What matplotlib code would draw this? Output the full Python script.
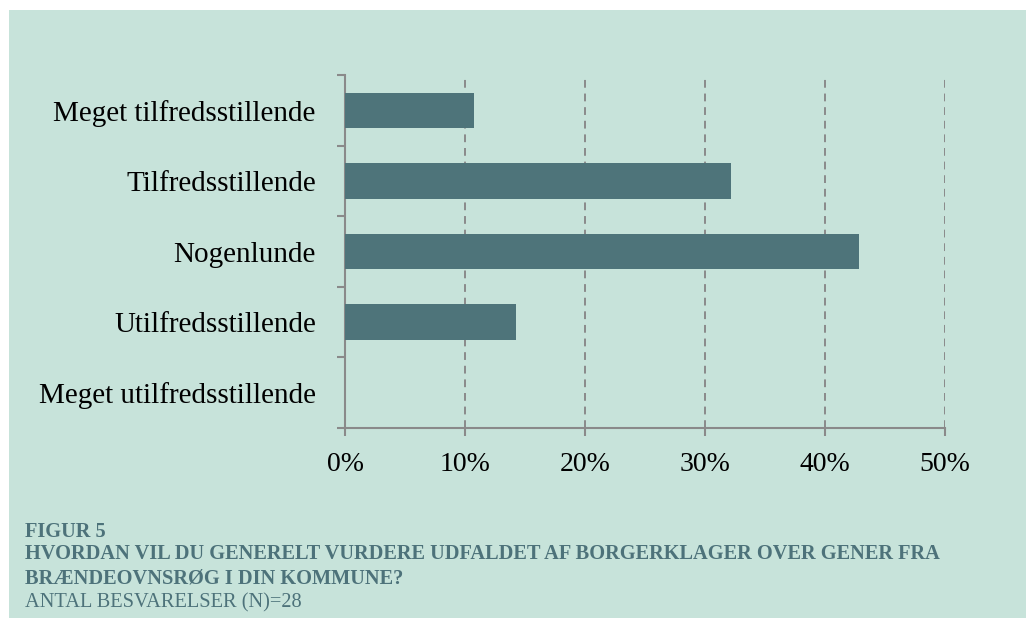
import numpy as np
import matplotlib.pyplot as plt
from matplotlib.patches import Rectangle

CATEGORIES = [
    "Meget tilfredsstillende",
    "Tilfredsstillende",
    "Nogenlunde",
    "Utilfredsstillende",
    "Meget utilfredsstillende",
]
SHARES = [10.71, 32.14, 42.86, 14.29, 0.0]  # percent, n=28
X_TICKS = [0, 10, 20, 30, 40, 50]
CAPTION_BOLD = [
    "FIGUR 5",
    "HVORDAN VIL DU GENERELT VURDERE UDFALDET AF BORGERKLAGER OVER GENER FRA",
    "BRÆNDEOVNSRØG I DIN KOMMUNE?",
]
CAPTION_NOTE = "ANTAL BESVARELSER (N)=28"

BG = "#c7e3da"
BAR = "#4e747a"
GREY = "#8a8a8a"
CAPTION = "#4d727a"

plt.rcParams["font.family"] = ["Liberation Serif", "DejaVu Serif"]


def main():
    W, H = 1026, 618
    fig = plt.figure(figsize=(W / 100, H / 100), dpi=100, facecolor="white")
    fig.patches.append(
        Rectangle((9 / W, 0), 1, 1 - 10 / H, transform=fig.transFigure,
                  facecolor=BG, edgecolor="none", zorder=-10)
    )

    ax = fig.add_axes([345 / W, 1 - 428 / H, 600 / W, 353 / H])
    ax.set_facecolor("none")

    y = np.arange(len(CATEGORIES))
    ax.barh(y, SHARES, height=0.5, color=BAR, zorder=3)

    ax.set_xlim(0, 50)
    ax.set_ylim(len(CATEGORIES) - 0.5, -0.5)

    ax.set_xticks(X_TICKS)
    ax.set_xticklabels([f"{t}%" for t in X_TICKS], fontsize=20)
    ax.set_yticks(np.arange(len(CATEGORIES) + 1) - 0.5)
    ax.set_yticklabels([])
    ax.set_yticks(y, minor=True)
    ax.set_yticklabels(CATEGORIES, minor=True, fontsize=21)

    ax.tick_params(axis="both", which="major", direction="out", length=6,
                   width=1.5, color=GREY)
    ax.tick_params(axis="x", pad=11)
    ax.tick_params(axis="y", which="minor", length=0, pad=21)

    for side in ("top", "right"):
        ax.spines[side].set_visible(False)
    for side in ("left", "bottom"):
        ax.spines[side].set_color(GREY)
        ax.spines[side].set_linewidth(1.5)

    for t in X_TICKS[1:]:
        ax.axvline(t, color=GREY, lw=1.4, linestyle=(0, (4, 3)), zorder=1)

    baselines = [537, 559, 583]
    for text, yb in zip(CAPTION_BOLD, baselines):
        fig.text(25 / W, 1 - yb / H, text, fontsize=14.7, fontweight="bold",
                 color=CAPTION, va="baseline", ha="left")
    fig.text(25 / W, 1 - 607 / H, CAPTION_NOTE, fontsize=14.7,
             color=CAPTION, va="baseline", ha="left")

    fig.savefig("out.png", dpi=100, facecolor="white")
    plt.close(fig)


if __name__ == "__main__":
    main()
